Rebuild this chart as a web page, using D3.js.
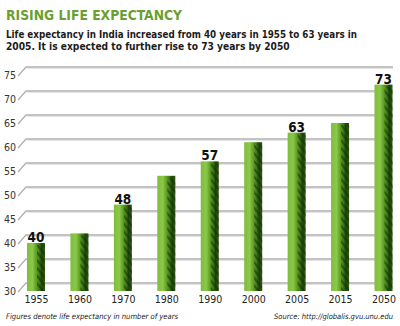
<!DOCTYPE html>
<html>
<head>
<meta charset='UTF-8'>
<title>Rising Life Expectancy</title>
<script src='https://cdn.jsdelivr.net/npm/d3@7/dist/d3.min.js'></script>
<style>
  body { margin:0; background:#fff; }
  svg { display:block; }
  .narrow { font-family:'Liberation Sans Narrow','DejaVu Sans Condensed',sans-serif; }
</style>
</head>
<body>
<div id='chart'></div>
<script>
// life expectancy by year (India)
var years = ['1955', '1960', '1970', '1980', '1990', '2000', '2005', '2015', '2050'];
var lifeExp = [40, 42, 48, 54, 57, 61, 63, 65, 73];
// only these bars carry a value label
var labelled = ['1955', '1970', '1990', '2005', '2050'];
var yTicks = [30, 35, 40, 45, 50, 55, 60, 65, 70, 75];

var width = 400;
var height = 326;
var depth = 8;      // offset of the back wall gridlines
var barWidth = 18;

var svg = d3.select('#chart').append('svg')
  .attr('width', width)
  .attr('height', height);

// scale a text's font size so that it spans the given width
function fitWidth(sel, target) {
  sel.each(function() {
    var size = parseFloat(this.getAttribute('font-size'));
    var len = this.getComputedTextLength();
    this.setAttribute('font-size', (size * target / len).toFixed(2));
  });
}

var defs = svg.append('defs');

var grad = defs.append('linearGradient')
  .attr('id', 'barFill')
  .attr('x1', '0%').attr('x2', '100%')
  .attr('y1', '0%').attr('y2', '0%');
[['0%', '#7fbd3c'], ['30%', '#8cc84a'], ['50%', '#62a126'],
 ['68%', '#3f7a17'], ['82%', '#1e420a'], ['100%', '#2f5c10']].forEach(function(s) {
  grad.append('stop').attr('offset', s[0]).attr('stop-color', s[1]);
});

// dark grass-like streaks on the shaded side of the bars
var streak = defs.append('pattern')
  .attr('id', 'streak')
  .attr('patternUnits', 'userSpaceOnUse')
  .attr('width', 5).attr('height', 5)
  .attr('patternTransform', 'rotate(-40)');
streak.append('rect')
  .attr('width', 2).attr('height', 5)
  .attr('fill', '#12300a').attr('opacity', 0.55);

/* Scales */
var x = d3.scalePoint()
  .domain(years)
  .range([36, 383.5]);

var y = d3.scaleLinear()
  .domain([30, 75])
  .range([291, 75]);

/* Title and intro */
svg.append('text')
  .attr('class', 'narrow')
  .attr('x', 6).attr('y', 20)
  .attr('font-size', 19)
  .attr('font-weight', 'bold')
  .attr('fill', '#6b9f32')
  .text('RISING LIFE EXPECTANCY')
  .call(fitWidth, 176);

var intro = [
  ['Life expectancy in India increased from 40 years in 1955 to 63 years in', 37.5, 351],
  ['2005. It is expected to further rise to 73 years by 2050', 50, 284]
];
svg.selectAll('.intro')
  .data(intro).enter()
  .append('text')
  .attr('class', 'intro narrow')
  .attr('x', 6)
  .attr('y', d => d[1])
  .attr('font-size', 11)
  .attr('font-weight', 'bold')
  .attr('fill', '#1c1c1c')
  .text(d => d[0])
  .each(function(d) { d3.select(this).call(fitWidth, d[2]); });

/* Gridlines: short slant from the axis up to the back wall */
var grid = svg.append('g').attr('class', 'grid');
grid.selectAll('path')
  .data(yTicks).enter()
  .append('path')
  .attr('d', d => 'M18,' + (y(d) + 1) + 'L26,' + (y(d) - depth) + 'L393,' + (y(d) - depth))
  .attr('fill', 'none')
  .attr('stroke', '#b0b0b0')
  .attr('stroke-width', 1.3);
grid.selectAll('.shade')
  .data(yTicks).enter()
  .append('line')
  .attr('class', 'shade')
  .attr('x1', 27).attr('x2', 393)
  .attr('y1', d => y(d) - depth + 1.5)
  .attr('y2', d => y(d) - depth + 1.5)
  .attr('stroke', '#e6e6e6')
  .attr('stroke-width', 1);

/* Y axis labels */
var yAxis = d3.axisLeft(y).tickValues(yTicks).tickSize(0).tickPadding(0);
var yg = svg.append('g')
  .attr('transform', 'translate(16,0)')
  .call(yAxis);
yg.select('.domain').remove();
yg.selectAll('text')
  .attr('class', 'narrow')
  .attr('font-size', 10.5)
  .attr('fill', '#333');

/* Bars */
var bars = svg.append('g').attr('class', 'bars');
var data = years.map((yr, i) => ({year: yr, value: lifeExp[i]}));

bars.selectAll('.bar')
  .data(data).enter()
  .append('rect')
  .attr('class', 'bar')
  .attr('x', d => x(d.year) - barWidth / 2)
  .attr('y', d => y(d.value))
  .attr('width', barWidth)
  .attr('height', d => y(30) - y(d.value))
  .attr('fill', 'url(#barFill)');

bars.selectAll('.streak')
  .data(data).enter()
  .append('rect')
  .attr('class', 'streak')
  .attr('x', d => x(d.year) + 1)
  .attr('y', d => y(d.value) + 2)
  .attr('width', barWidth / 2 - 1)
  .attr('height', d => y(30) - y(d.value) - 2)
  .attr('fill', 'url(#streak)');

/* Value labels */
svg.selectAll('.value')
  .data(data.filter(d => labelled.indexOf(d.year) >= 0)).enter()
  .append('text')
  .attr('class', 'value narrow')
  .attr('x', d => x(d.year))
  .attr('y', d => y(d.value) - 1)
  .attr('text-anchor', 'middle')
  .attr('font-size', 13.5)
  .attr('font-weight', 'bold')
  .attr('fill', '#111')
  .text(d => d.value);

/* X axis labels */
var xAxis = d3.axisBottom(x).tickSize(0).tickPadding(0);
var xg = svg.append('g')
  .attr('transform', 'translate(0,296)')
  .call(xAxis);
xg.select('.domain').remove();
xg.selectAll('text')
  .attr('class', 'narrow')
  .attr('font-size', 10.5)
  .attr('fill', '#222');

/* Footnotes */
svg.append('text')
  .attr('class', 'narrow')
  .attr('x', 6).attr('y', 319)
  .attr('font-size', 9.5)
  .attr('font-style', 'italic')
  .attr('fill', '#222')
  .text('Figures denote life expectancy in number of years')
  .call(fitWidth, 172);

svg.append('text')
  .attr('class', 'narrow')
  .attr('x', 393).attr('y', 319)
  .attr('text-anchor', 'end')
  .attr('font-size', 9.5)
  .attr('font-style', 'italic')
  .attr('fill', '#222')
  .text('Source: http://globalis.gvu.unu.edu')
  .call(fitWidth, 119);
</script>
</body>
</html>
